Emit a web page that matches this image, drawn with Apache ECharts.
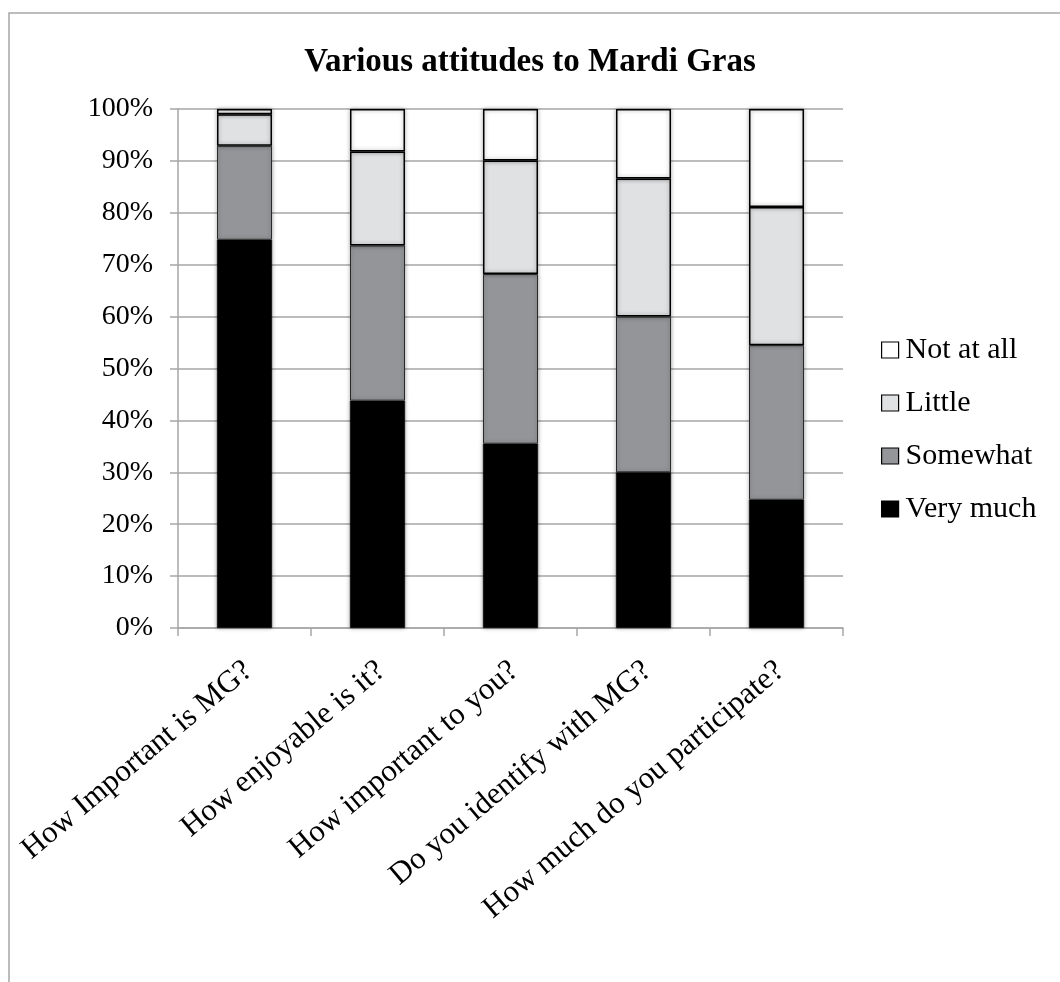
<!DOCTYPE html>
<html>
<head>
<meta charset="utf-8">
<script src="https://cdn.jsdelivr.net/npm/echarts@6/dist/echarts.min.js"></script>
<style>
  html, body { margin: 0; padding: 0; background: #fff; }
  #chart { width: 1060px; height: 982px; }
</style>
</head>
<body>
<div id="chart"></div>
<script>
const categories = [
  "How Important is MG?",
  "How enjoyable is it?",
  "How important to you?",
  "Do you identify with MG?",
  "How much do you participate?"
];
const veryMuch = [74.8, 43.8, 35.5, 30.0, 24.7];
const somewhat = [18.1, 29.9, 32.7, 30.0, 29.8];
const little   = [6.1, 18.1, 21.9, 26.6, 26.6];
const notAtAll = [1.0, 8.2, 9.9, 13.4, 18.9];
const yTicks = { min: 0, max: 100, interval: 10 };
const legendOrder = ["Not at all", "Little", "Somewhat", "Very much"];

const chart = echarts.init(document.getElementById('chart'), null, { renderer: 'canvas' });

const serif = '"Liberation Serif", "Times New Roman", serif';
const shadow = { shadowBlur: 4, shadowColor: 'rgba(0,0,0,0.35)', shadowOffsetX: 0, shadowOffsetY: 0 };

function mk(name, data, color, borderColor, borderWidth) {
  return {
    name: name,
    type: 'bar',
    stack: 'total',
    data: data,
    barWidth: 55,
    itemStyle: Object.assign({ color: color, borderColor: borderColor, borderWidth: borderWidth }, shadow),
    emphasis: { disabled: true }
  };
}

chart.setOption({
  backgroundColor: '#fff',
  animation: false,
  title: {
    text: 'Various attitudes to Mardi Gras',
    left: 'center',
    top: 41,
    textStyle: { fontFamily: serif, fontWeight: 'bold', fontSize: 33, color: '#000' }
  },
  graphic: [{
    type: 'rect',
    shape: { x: 9, y: 13, width: 1200, height: 1100 },
    style: { fill: 'none', stroke: '#a6a6a6', lineWidth: 1.5 },
    silent: true
  }],
  legend: {
    orient: 'vertical',
    left: 876,
    top: 330,
    data: legendOrder,
    itemWidth: 17,
    itemHeight: 16,
    itemGap: 23,
    icon: 'rect',
    textStyle: { fontFamily: serif, fontSize: 30, color: '#000', lineHeight: 30, padding: [0, 0, 0, 2] },
    itemStyle: { borderColor: '#000', borderWidth: 1.2, shadowBlur: 0 }
  },
  grid: { left: 178, right: 217, top: 109, bottom: 354, containLabel: false },
  xAxis: {
    type: 'category',
    data: categories,
    boundaryGap: true,
    axisLine: { lineStyle: { color: '#a6a6a6', width: 1.5 } },
    axisTick: { show: true, length: 8, alignWithLabel: false, lineStyle: { color: '#a6a6a6', width: 1.5 } },
    axisLabel: { rotate: 40, margin: 22, interval: 0, verticalAlign: 'top', align: 'right', padding: [0, 8, 0, 0], fontFamily: serif, fontSize: 31, color: '#000' },
    splitLine: { show: false }
  },
  yAxis: {
    type: 'value',
    min: yTicks.min,
    max: yTicks.max,
    interval: yTicks.interval,
    axisLine: { show: true, lineStyle: { color: '#a6a6a6', width: 1.5 } },
    axisTick: { show: true, length: 8, lineStyle: { color: '#a6a6a6', width: 1.5 } },
    axisLabel: { formatter: '{value}%', margin: 25, fontFamily: serif, fontSize: 28, color: '#000' },
    splitLine: { show: true, lineStyle: { color: '#a6a6a6', width: 1.5 } }
  },
  series: [
    mk('Very much', veryMuch, '#000000', '#000000', 0.5),
    mk('Somewhat', somewhat, '#939598', '#2a2a2a', 1),
    mk('Little', little, '#e0e1e3', '#000000', 1.5),
    mk('Not at all', notAtAll, '#ffffff', '#000000', 1.5)
  ]
});
</script>
</body>
</html>
